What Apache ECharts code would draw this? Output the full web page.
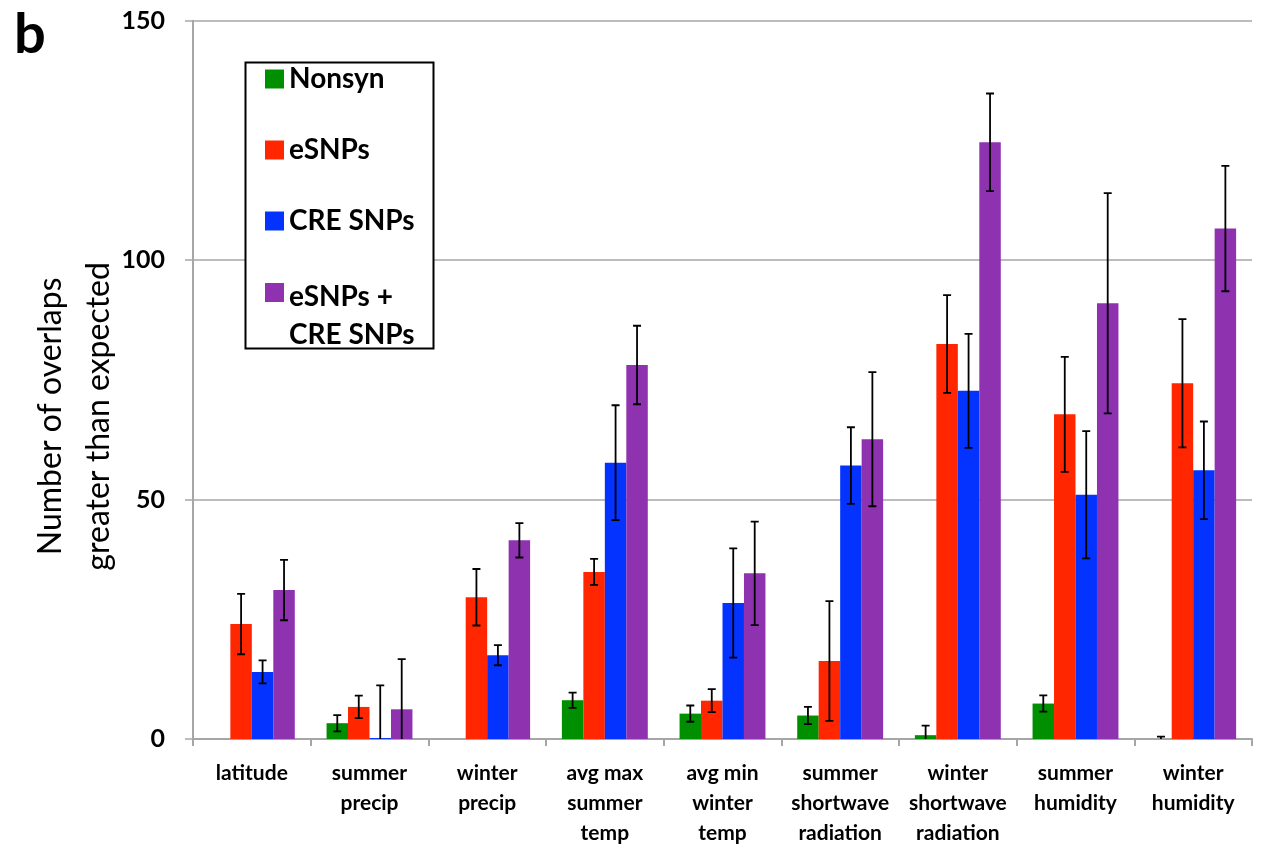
<!DOCTYPE html>
<html>
<head>
<meta charset="utf-8">
<script src="https://cdn.jsdelivr.net/npm/echarts@6/dist/echarts.min.js"></script>
<style>
html,body{margin:0;padding:0;background:#fff;}
#chart{width:1267px;height:855px;}
</style>
</head>
<body>
<div id="chart"></div>
<script>
const categories = ['latitude','summer\nprecip','winter\nprecip','avg max\nsummer\ntemp','avg min\nwinter\ntemp','summer\nshortwave\nradiation','winter\nshortwave\nradiation','summer\nhumidity','winter\nhumidity'];
const seriesNames = ['Nonsyn','eSNPs','CRE SNPs','eSNPs + CRE SNPs'];
const nonsyn    = [0, 3.3, 0, 8.1, 5.3, 4.9, 0.8, 7.4, 0];
const nonsynErr = [null, 1.7, null, 1.6, 1.7, 1.8, 2.0, 1.7, 0.5];
const esnps     = [24.0, 6.7, 29.6, 34.9, 8.0, 16.3, 82.5, 67.8, 74.3];
const esnpsErr  = [6.3, 2.35, 5.9, 2.7, 2.4, 12.5, 10.2, 12.0, 13.4];
const cre       = [14.0, 0.2, 17.5, 57.7, 28.4, 57.1, 72.7, 51.0, 56.1];
const creErr    = [2.4, 11.0, 2.1, 12.0, 11.4, 8.0, 11.9, 13.3, 10.2];
const both      = [31.1, 6.2, 41.5, 78.1, 34.6, 62.6, 124.6, 91.0, 106.6];
const bothErr   = [6.3, 10.5, 3.6, 8.2, 10.8, 14.0, 10.2, 23.0, 13.1];
const yTicks = [0, 50, 100, 150];

const colors = ['#008f00', '#ff2600', '#0433ff', '#8e32b0'];
const values = [nonsyn, esnps, cre, both];
const errors = [nonsynErr, esnpsErr, creErr, bothErr];
const CAT_GAP = 0.27;
const FONT = 'Lato, "Open Sans", sans-serif';

const barSeries = seriesNames.map((n, s) => ({
  name: n,
  type: 'bar',
  data: values[s],
  barGap: '0%',
  barCategoryGap: (CAT_GAP * 100) + '%',
  itemStyle: {color: colors[s]},
  z: 2
}));

const errSeries = seriesNames.map((n, s) => ({
  name: n,
  type: 'custom',
  clip: true,
  z: 5,
  silent: true,
  encode: {x: 0, y: [1, 2]},
  data: values[s].map((v, i) => errors[s][i] == null ? null : [i, v - errors[s][i], v + errors[s][i]]).filter(d => d),
  renderItem: function (params, api) {
    const i = api.value(0);
    const lo = api.coord([i, api.value(1)]);
    const hi = api.coord([i, api.value(2)]);
    const band = api.size([1, 0])[0];
    const bw = band * (1 - CAT_GAP) / 4;
    const x = hi[0] + (s - 1.5) * bw;
    const cw = 4;
    const st = {stroke: '#000', lineWidth: 1.8};
    return {
      type: 'group',
      children: [
        {type: 'line', shape: {x1: x, y1: lo[1], x2: x, y2: hi[1]}, style: st},
        {type: 'line', shape: {x1: x - cw, y1: hi[1], x2: x + cw, y2: hi[1]}, style: st},
        {type: 'line', shape: {x1: x - cw, y1: lo[1], x2: x + cw, y2: lo[1]}, style: st}
      ]
    };
  }
}));

const chart = echarts.init(document.getElementById('chart'), null, {renderer: 'canvas'});
chart.setOption({
  animation: false,
  backgroundColor: '#fff',
  title: {
    text: 'b', left: 9, top: 2,
    textStyle: {fontSize: 56, fontWeight: 'bold', fontFamily: FONT, color: '#000'}
  },
  grid: {left: 193, right: 15, top: 20.7, bottom: 116, containLabel: false},
  legend: [
    {
      data: seriesNames.slice(0, 3).map(n => ({name: n, icon: 'rect'})),
      orient: 'vertical',
      left: 265, top: 64,
      itemWidth: 19, itemHeight: 19,
      itemGap: 41,
      padding: 0,
      z: 20,
      selectedMode: false,
      textStyle: {fontSize: 28, fontWeight: 'bold', fontFamily: FONT, color: '#000', lineHeight: 30}
    },
    {
      data: [{name: seriesNames[3], icon: 'path://M0,0L19,0L19,19L0,19ZM0,66L0.1,66'}],
      orient: 'vertical',
      left: 265, top: 278,
      itemWidth: 19, itemHeight: 66,
      padding: 0,
      z: 20,
      selectedMode: false,
      formatter: function () { return 'eSNPs +\nCRE SNPs'; },
      textStyle: {fontSize: 28, fontWeight: 'bold', fontFamily: FONT, color: '#000', lineHeight: 38}
    }
  ],
  graphic: [
    {
      type: 'rect', z: 10,
      shape: {x: 245.5, y: 62.5, width: 188, height: 286},
      style: {fill: '#fff', stroke: '#000', lineWidth: 2}
    }
  ],
  xAxis: {
    type: 'category',
    data: categories,
    axisLine: {lineStyle: {color: '#a6a6a6', width: 2}},
    axisTick: {show: true, length: 7, lineStyle: {color: '#a6a6a6', width: 2}},
    axisLabel: {
      interval: 0, margin: 19,
      fontSize: 21, fontWeight: 'bold', fontFamily: FONT, color: '#000', lineHeight: 30
    }
  },
  yAxis: {
    type: 'value',
    min: yTicks[0], max: yTicks[yTicks.length - 1], interval: 50,
    name: 'Number of overlaps\ngreater than expected',
    nameLocation: 'middle',
    nameGap: 70,
    nameMoveOverlap: false,
    nameTextStyle: {fontSize: 32, fontFamily: FONT, color: '#000', lineHeight: 48, padding: [0, 73, 0, 0]},
    axisLine: {show: true, lineStyle: {color: '#a6a6a6', width: 2}},
    axisTick: {show: true, length: 8, lineStyle: {color: '#a6a6a6', width: 1.5}},
    splitLine: {lineStyle: {color: '#a6a6a6', width: 1.5}},
    axisLabel: {margin: 28, fontSize: 25, fontWeight: 'bold', fontFamily: FONT, color: '#000'}
  },
  series: barSeries.concat(errSeries)
});
</script>
</body>
</html>
